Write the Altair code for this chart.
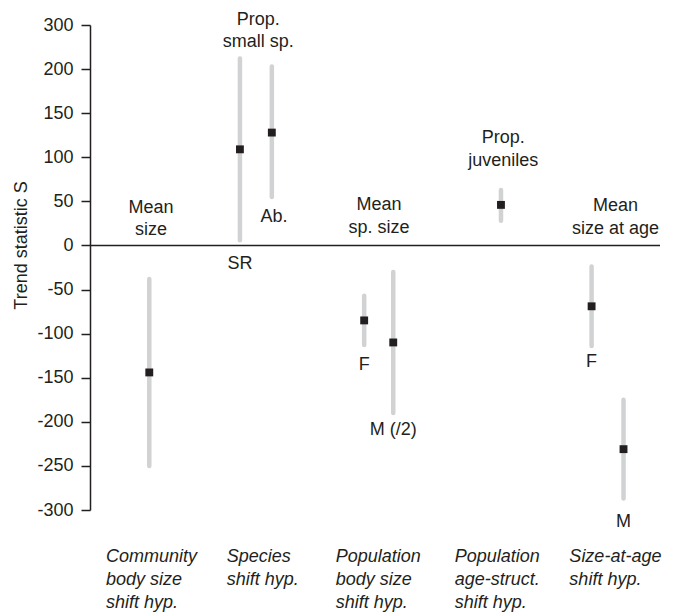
import altair as alt
import pandas as pd

# ---- data ----
series_names = ["Community mean size", "SR", "Ab.", "Pop. F", "Pop. M (/2)",
                "Prop. juveniles", "Size-at-age F", "Size-at-age M"]
x_pos = [1.04, 2.63, 3.19, 4.81, 5.32, 7.21, 8.80, 9.36]
means = [-144, 109, 128, -85, -110, 46, -69, -231]
lows = [-250, 6, 55, -113, -190, 28, -114, -287]
highs = [-38, 212, 203, -57, -30, 63, -24, -175]

# group annotations above bars (centered)
top_text = ["Mean\nsize", "Prop.\nsmall sp.", "Ab.", "Mean\nsp. size",
            "Prop.\njuveniles", "Mean\nsize at age"]
top_x = [1.07, 2.95, 3.23, 5.07, 7.25, 9.22]
top_y = [37, 250.5, 27, 40, 116, 39]

# sub labels under bars
sub_text = ["SR", "F", "M (/2)", "F", "M"]
sub_x = [2.63, 4.81, 5.32, 8.80, 9.36]
sub_y = [-27, -141, -215, -138, -319]

# hypothesis labels (bottom, italic, left aligned)
hyp_text = ["Community\nbody size\nshift hyp.", "Species\nshift hyp.",
            "Population\nbody size\nshift hyp.", "Population\nage-struct.\nshift hyp.",
            "Size-at-age\nshift hyp."]
hyp_x = [0.28, 2.40, 4.31, 6.40, 8.41]
hyp_y = [-358.5] * 5

tick_values = [-300, -250, -200, -150, -100, -50, 0, 50, 100, 150, 200, 250]

FONT = "Arial, Liberation Sans, Helvetica, sans-serif"
TXT = "#231f20"

df = pd.DataFrame({"name": series_names, "x": x_pos, "mean": means, "lo": lows, "hi": highs})
df_top = pd.DataFrame({"t": top_text, "x": top_x, "y": top_y})
df_sub = pd.DataFrame({"t": sub_text, "x": sub_x, "y": sub_y})
df_hyp = pd.DataFrame({"t": hyp_text, "x": hyp_x, "y": hyp_y})
df_zero = pd.DataFrame({"x": [0], "x2": [10], "y": [0]})

xscale = alt.Scale(domain=[0, 10], nice=False, zero=False)
yscale = alt.Scale(domain=[-300, 250], nice=False, zero=False)

X = alt.X("x:Q", scale=xscale, axis=None)
yaxis = alt.Axis(
    values=tick_values,
    labelExpr="datum.value == 250 ? '300' : toString(datum.value)",
    title="Trend statistic S",
    titleFont=FONT, titleFontSize=18, titleFontWeight="normal", titleColor=TXT,
    titleAngle=-90, titleX=-69, titleY=220, titleAlign="center", titleBaseline="middle",
    labelFont=FONT, labelFontSize=18, labelColor=TXT, labelPadding=8,
    tickSize=9, tickColor="#231f20", tickWidth=1.5,
    domainColor="#231f20", domainWidth=1.5, grid=False, labelFlush=False,
    labelOverlap=False,
)

bars = alt.Chart(df).mark_rule(color="#d1d2d4", strokeWidth=4.5, strokeCap="round").encode(
    x=X,
    y=alt.Y("lo:Q", scale=yscale, axis=yaxis),
    y2="hi:Q",
)

zero = alt.Chart(df_zero).mark_rule(color="#231f20", strokeWidth=1.5).encode(
    x=X, x2="x2:Q", y=alt.Y("y:Q", scale=yscale)
)

pts = alt.Chart(df).mark_square(color="#231f20", size=62, opacity=1).encode(
    x=X, y=alt.Y("mean:Q", scale=yscale)
)

top_lbl = alt.Chart(df_top).mark_text(
    font=FONT, fontSize=18, color=TXT, align="center", baseline="alphabetic",
    lineBreak="\n", lineHeight=22.5
).encode(x=X, y=alt.Y("y:Q", scale=yscale), text="t:N")

sub_lbl = alt.Chart(df_sub).mark_text(
    font=FONT, fontSize=18, color=TXT, align="center", baseline="alphabetic"
).encode(x=X, y=alt.Y("y:Q", scale=yscale), text="t:N")

hyp_lbl = alt.Chart(df_hyp).mark_text(
    font=FONT, fontSize=18, fontStyle="italic", color=TXT, align="left",
    baseline="alphabetic", lineBreak="\n", lineHeight=23
).encode(x=X, y=alt.Y("y:Q", scale=yscale), text="t:N")

chart = alt.layer(bars, zero, pts, top_lbl, sub_lbl, hyp_lbl).properties(
    width=570, height=485,
    autosize=alt.AutoSizeParams(type="none"),
    padding={"left": 82, "top": 17, "right": 7, "bottom": 105},
    background="white",
).configure_view(stroke=None)

chart.save("out.html", embed_options={"renderer": "svg", "actions": False})
